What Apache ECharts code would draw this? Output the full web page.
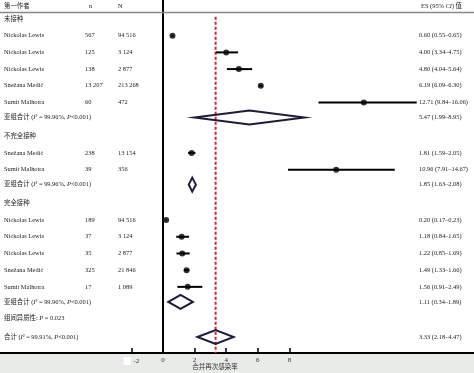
<!DOCTYPE html>
<html><head><meta charset="utf-8">
<script src="https://cdn.jsdelivr.net/npm/echarts@6/dist/echarts.min.js"></script>
<style>html,body{margin:0;padding:0;background:#fff}#c{width:474px;height:373px}</style>
</head><body><div id="c"></div>
<script>
// ---------- data ----------
const groupNames = ['未接种', '不完全接种', '完全接种'];
const studyGroup = [0, 0, 0, 0, 0, 1, 1, 2, 2, 2, 2, 2];
const authors = ['Nickolas Lewis', 'Nickolas Lewis', 'Nickolas Lewis', 'Snežana Medić', 'Sumit Malhotra',
                 'Snežana Medić', 'Sumit Malhotra',
                 'Nickolas Lewis', 'Nickolas Lewis', 'Nickolas Lewis', 'Snežana Medić', 'Sumit Malhotra'];
const nCases = ['567', '125', '138', '13 207', '60', '238', '39', '189', '37', '35', '325', '17'];
const nTotal = ['94 516', '3 124', '2 877', '213 268', '472', '13 154', '356', '94 516', '3 124', '2 877', '21 846', '1 089'];
const es     = [0.60, 4.00, 4.80, 6.19, 12.71, 1.81, 10.96, 0.20, 1.18, 1.22, 1.49, 1.56];
const ciLow  = [0.55, 3.34, 4.04, 6.09, 9.84, 1.59, 7.91, 0.17, 0.84, 0.85, 1.33, 0.91];
const ciHigh = [0.65, 4.75, 5.64, 6.30, 16.06, 2.05, 14.67, 0.23, 1.65, 1.69, 1.66, 2.49];
const subES   = [5.47, 1.85, 1.11];
const subLow  = [1.99, 1.63, 0.34];
const subHigh = [8.95, 2.08, 1.89];
const subI2   = ['99.96%', '99.96%', '99.96%'];
const subP    = ['<0.001', '<0.001', '<0.001'];
const betweenP = '0.023';
const overallES = 3.33, overallLow = 2.18, overallHigh = 4.47;
const overallI2 = '99.91%', overallP = '<0.001';
const xTicks = [-2, 0, 2, 4, 6, 8];
const headerTexts = ['第一作者', 'n', 'N'];
const xTitle = '合并再次感染率';

// ---------- layout ----------
const SERIF = '"Liberation Serif","Noto Sans CJK SC",serif';
const FONT = '6.4px ' + SERIF;
const IFONT = 'italic 6.4px ' + SERIF;
const W = 474, H = 373, AXIS_Y = 353;
const PX_PER_UNIT = 15.8, ZERO_X = 163;
const ROW_PX = 16.7, FIRST_ROW_Y = 19;
const col = { author: 4, n: 85, N: 118, es: 419, hn: 89, hN: 118, hes: 421 };
const gap = { header: 1.12, study: 1, subtotal: 0.9, het: 1.0, overall: 1.1 };

const fmt = v => v.toFixed(2);
const esText = (e, l, h) => `${fmt(e)} (${fmt(l)}–${fmt(h)})`;

const rows = [];
let slot = 0;
function push(r) { if (rows.length) slot += gap[r.kind]; r.slot = slot; rows.push(r); }
groupNames.forEach((g, gi) => {
  push({ kind: 'header', text: g });
  studyGroup.forEach((sg, i) => { if (sg === gi) push({ kind: 'study', i }); });
  push({ kind: 'subtotal', g: gi });
});
push({ kind: 'het' });
push({ kind: 'overall' });

const yMin = -FIRST_ROW_Y / ROW_PX, yMax = (AXIS_Y - FIRST_ROW_Y) / ROW_PX;
const headSlot = (6 - FIRST_ROW_Y) / ROW_PX;
const lineSlot = (12.5 - FIRST_ROW_Y) / ROW_PX;

const rich = { i: { font: IFONT, fill: '#222' }, t: { font: FONT, fill: '#222' } };
function txt(x, y, text) {
  return { type: 'text', x, y, style: { text, font: FONT, fill: '#222', verticalAlign: 'middle', align: 'left', rich } };
}
function statText(prefix, i2, p) {
  return `{t|${prefix}(}{i|I}{t|² = ${i2}, }{i|P}{t|${p})}`;
}

const chart = echarts.init(document.getElementById('c'), null, { renderer: 'canvas' });
chart.setOption({
  animation: false,
  grid: { left: 0, right: 0, top: 0, bottom: H - AXIS_Y, containLabel: false, outerBoundsMode: 'none' },
  graphic: [{ type: 'rect', left: 0, top: AXIS_Y + 1, z: -1, shape: { width: W, height: H - AXIS_Y - 1 }, style: { fill: '#e9ebe9' } }],
  xAxis: {
    type: 'value', min: -ZERO_X / PX_PER_UNIT, max: (W - ZERO_X) / PX_PER_UNIT,
    axisLine: { onZero: false, lineStyle: { color: '#000', width: 2 } },
    axisTick: { show: true, inside: true, length: 5, customValues: xTicks, lineStyle: { color: '#000', width: 1.5 } },
    axisLabel: {
      customValues: xTicks, margin: 4, fontSize: 7, fontFamily: SERIF, color: '#333',
      formatter: v => v === -2 ? '{w|}{s|-2}' : String(v),
      rich: { w: { width: 7, height: 8, backgroundColor: '#fff' }, s: { padding: [0, 0, 0, 3], fontSize: 7, fontFamily: SERIF, color: '#333' } }
    },
    splitLine: { show: false },
    name: xTitle, nameLocation: 'middle', nameGap: 11, nameMoveOverlap: false,
    nameTextStyle: { fontSize: 6.5, fontFamily: SERIF, color: '#333', padding: [0, 44, 0, 0] }
  },
  yAxis: {
    type: 'value', inverse: true, min: yMin, max: yMax,
    axisLine: { show: true, onZero: true, lineStyle: { color: '#000', width: 2 } },
    axisTick: { show: false }, axisLabel: { show: false }, splitLine: { show: false }
  },
  series: [
    { // separator line at top
      type: 'custom', silent: true, data: [[0, lineSlot]], clip: false,
      renderItem: (p, api) => {
        const y = api.coord([0, lineSlot])[1];
        return { type: 'line', shape: { x1: 0, y1: y, x2: api.getWidth(), y2: y }, style: { stroke: '#8a8a8a', lineWidth: 1.5 } };
      }
    },
    { // pooled reference line
      type: 'custom', silent: true, data: [[overallES, 0]], z: 1,
      renderItem: (p, api) => {
        const a = api.coord([overallES, lineSlot + 0.25]);
        const b = api.coord([overallES, yMax]);
        return { type: 'line', shape: { x1: a[0], y1: a[1], x2: b[0], y2: b[1] }, style: { stroke: '#d8203a', lineWidth: 2, lineDash: [3, 2] } };
      }
    },
    { // CI whiskers
      type: 'custom', silent: true, z: 3,
      data: rows.filter(r => r.kind === 'study').map(r => [ciLow[r.i], ciHigh[r.i], r.slot]),
      renderItem: (p, api) => {
        const a = api.coord([api.value(0), api.value(2)]);
        const b = api.coord([api.value(1), api.value(2)]);
        return { type: 'line', shape: { x1: a[0], y1: a[1], x2: b[0], y2: b[1] }, style: { stroke: '#000', lineWidth: 2 } };
      }
    },
    { // point estimates
      type: 'scatter', silent: true, symbol: 'circle', symbolSize: 6, z: 4,
      itemStyle: { color: '#000' },
      data: rows.filter(r => r.kind === 'study').map(r => [es[r.i], r.slot])
    },
    { // diamonds
      type: 'custom', silent: true, z: 3,
      data: rows.filter(r => r.kind === 'subtotal').map(r => [subLow[r.g], subES[r.g], subHigh[r.g], r.slot])
        .concat(rows.filter(r => r.kind === 'overall').map(r => [overallLow, overallES, overallHigh, r.slot])),
      renderItem: (p, api) => {
        const s = api.value(3), h = 7;
        const l = api.coord([api.value(0), s]), c = api.coord([api.value(1), s]), r = api.coord([api.value(2), s]);
        return { type: 'polygon', shape: { points: [[l[0], l[1]], [c[0], c[1] - h], [r[0], r[1]], [c[0], c[1] + h]] },
                 style: { fill: 'none', stroke: '#1c1c3c', lineWidth: 2 } };
      }
    },
    { // text columns
      type: 'custom', silent: true, z: 5, clip: false,
      data: [[0, headSlot, -1]].concat(rows.map((r, k) => [0, r.slot, k])),
      renderItem: (p, api) => {
        const k = api.value(2);
        const y = api.coord([0, api.value(1)])[1];
        const ch = [];
        if (k === -1) {
          ch.push(txt(col.author, y, headerTexts[0]), txt(col.hn, y, headerTexts[1]), txt(col.hN, y, headerTexts[2]),
                  txt(col.hes, y, '{t|ES (95% }{i|CI}{t|) 值}'));
        } else {
          const r = rows[k];
          if (r.kind === 'header') ch.push(txt(col.author, y, r.text));
          else if (r.kind === 'study') {
            ch.push(txt(col.author, y, authors[r.i]), txt(col.n, y, nCases[r.i]), txt(col.N, y, nTotal[r.i]),
                    txt(col.es, y, esText(es[r.i], ciLow[r.i], ciHigh[r.i])));
          } else if (r.kind === 'subtotal') {
            ch.push(txt(col.author, y, statText('亚组合计 ', subI2[r.g], subP[r.g])),
                    txt(col.es, y, esText(subES[r.g], subLow[r.g], subHigh[r.g])));
          } else if (r.kind === 'het') {
            ch.push(txt(col.author, y, `{t|组间异质性: }{i|P}{t| = ${betweenP}}`));
          } else if (r.kind === 'overall') {
            ch.push(txt(col.author, y, statText('合计 ', overallI2, overallP)),
                    txt(col.es, y, esText(overallES, overallLow, overallHigh)));
          }
        }
        return { type: 'group', children: ch };
      }
    }
  ]
});
</script></body></html>
